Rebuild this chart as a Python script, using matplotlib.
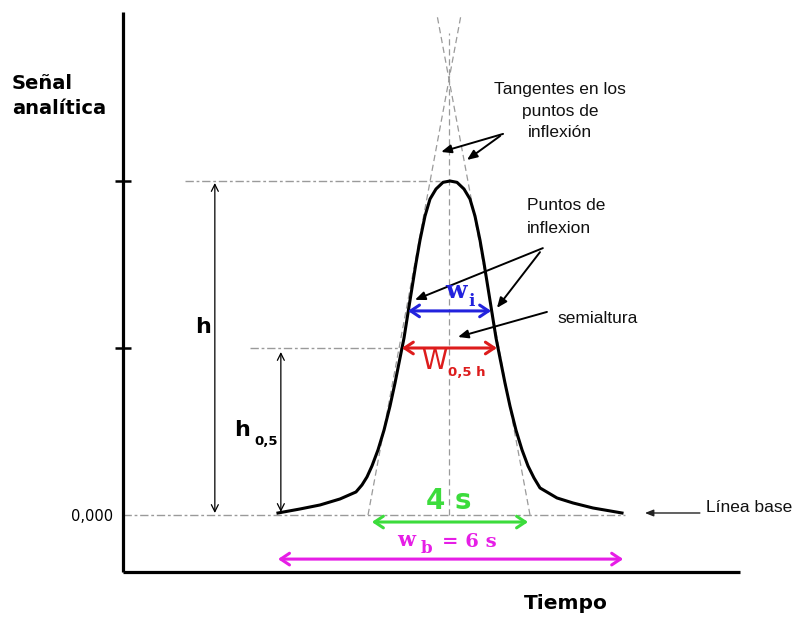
import matplotlib
matplotlib.use("Agg")
import matplotlib.pyplot as plt

# ---------------- data (time in sigma units, signal relative to peak height) -------------
curve_t = [3.780, 4.317, 4.805, 5.293, 5.683, 5.829, 5.951, 6.073, 6.220, 6.366, 6.512,
           6.634, 6.756, 6.854, 6.951, 7.049, 7.146, 7.244, 7.366, 7.488, 7.634, 7.805,
           7.976, 8.146, 8.317, 8.463, 8.585, 8.707, 8.805, 8.902, 9.000, 9.098, 9.195,
           9.317, 9.439, 9.585, 9.732, 9.878, 10.024, 10.171, 10.585, 10.976, 11.463, 12.171]
curve_s = [0.006, 0.018, 0.030, 0.048, 0.069, 0.090, 0.114, 0.147, 0.195, 0.254, 0.326,
           0.395, 0.470, 0.530, 0.605, 0.680, 0.754, 0.823, 0.895, 0.946, 0.976, 0.996,
           1.000, 0.996, 0.976, 0.946, 0.895, 0.823, 0.754, 0.680, 0.605, 0.530, 0.470,
           0.395, 0.326, 0.254, 0.195, 0.147, 0.111, 0.081, 0.051, 0.036, 0.021, 0.006]

peak_t = 7.95
peak_height = 1.0
half_height = 0.5
baseline = 0.0

tangent_left_t = [5.976, 8.244]
tangent_right_t = [9.927, 7.659]
tangent_s = [0.0, 1.497]
center_line_s = [0.0, 1.443]

wi_t = [6.95, 8.98]
wi_s = 0.611
w05_t = [6.80, 9.12]
w4s_t = [6.07, 9.88]
w4s_s = -0.021
wb_t = [3.78, 12.20]
wb_s = -0.132

h_t = 2.24
h05_t = 3.85

ytick_vals = [0.0, 0.5, 1.0]
ytick_labels = ["0,000", "", ""]

# ---------------- figure ----------------
W, H = 793, 617
fig = plt.figure(figsize=(W / 100, H / 100), dpi=100)
ax = fig.add_axes([123 / W, (H - 572) / H, (740 - 123) / W, (572 - 12) / H])
ax.set_xlim(0, 617 / 41)
ax.set_ylim(-57 / 334, 503 / 334)

for sp in ["top", "right"]:
    ax.spines[sp].set_visible(False)
for sp in ["left", "bottom"]:
    ax.spines[sp].set_linewidth(2.3)
    ax.spines[sp].set_color("black")
    ax.spines[sp].set_capstyle("butt")
ax.set_xticks([])
ax.set_yticks(ytick_vals)
ax.set_yticklabels(ytick_labels, fontsize=10.5, family="DejaVu Sans")
ax.tick_params(axis="y", direction="inout", length=11, width=1.8, pad=1.5)
ax.yaxis.get_major_ticks()[0].tick1line.set_visible(False)

gray = "#9a9a9a"
# reference lines
ax.plot([0.0, 12.24], [baseline, baseline], color=gray, lw=1.0, dashes=(6, 2, 2, 2))
ax.plot([1.51, 7.73], [peak_height, peak_height], color=gray, lw=1.0, dashes=(6, 2, 2, 2))
ax.plot([3.10, 6.78], [half_height, half_height], color=gray, lw=1.0, dashes=(6, 2, 2, 2))
ax.plot(tangent_left_t, tangent_s, color=gray, lw=0.9, dashes=(5, 3))
ax.plot(tangent_right_t, tangent_s, color=gray, lw=0.9, dashes=(5, 3))
ax.plot([peak_t, peak_t], center_line_s, color=gray, lw=0.9, dashes=(5, 3))

# peak
ax.plot(curve_t, curve_s, color="black", lw=2.2, solid_joinstyle="round", zorder=5)

# height arrows
thin = dict(arrowstyle="<->,head_length=0.5,head_width=0.25", lw=0.9, color="black",
            shrinkA=0, shrinkB=0, mutation_scale=10)
ax.annotate("", xy=(h_t, baseline + 0.006), xytext=(h_t, peak_height - 0.006), arrowprops=thin)
ax.annotate("", xy=(h05_t, baseline + 0.009), xytext=(h05_t, half_height - 0.012), arrowprops=thin)

def dbl(t0, t1, s, color):
    ax.annotate("", xy=(t0, s), xytext=(t1, s),
                arrowprops=dict(arrowstyle="<->,head_length=0.45,head_width=0.3", lw=2.2,
                                color=color, shrinkA=0, shrinkB=0, mutation_scale=14), zorder=6)

blue, red, green, magenta = "#2222dd", "#dd1c1c", "#3cdc3c", "#e61ee6"
dbl(wi_t[0], wi_t[1], wi_s, blue)
dbl(w05_t[0], w05_t[1], half_height, red)
dbl(w4s_t[0], w4s_t[1], w4s_s, green)
dbl(wb_t[0], wb_t[1], wb_s, magenta)

# labels on the peak
bold = dict(family="DejaVu Sans", fontweight="bold")
ax.text(1.95, 0.563, "h", fontsize=16, ha="center", va="center", **bold)
ax.text(2.90, 0.254, "h", fontsize=16, ha="center", va="center", **bold)
ax.text(3.20, 0.219, "0,5", fontsize=9.5, ha="left", va="center", **bold)

ax.text(8.12, 0.672, "w", fontsize=18, ha="center", va="center", color=blue,
        family="DejaVu Serif", fontweight="bold", zorder=7)
ax.text(8.51, 0.640, "i", fontsize=12, ha="center", va="center", color=blue,
        family="DejaVu Serif", fontweight="bold", zorder=7)

ax.text(7.59, 0.458, "W", fontsize=19, ha="center", va="center", color=red,
        family="DejaVu Sans", zorder=7)
ax.text(7.93, 0.428, "0,5 h", fontsize=9.5, ha="left", va="center", color=red,
        zorder=7, **bold)

ax.text(peak_t, 0.042, "4 s", fontsize=20, ha="center", va="center", color=green, zorder=7, **bold)

ax.text(6.90, -0.075, "w", fontsize=15, ha="center", va="center", color=magenta,
        family="DejaVu Serif", fontweight="bold")
ax.text(7.39, -0.099, "b", fontsize=12, ha="center", va="center", color=magenta,
        family="DejaVu Serif", fontweight="bold")
ax.text(7.78, -0.081, "= 6 s", fontsize=14, ha="left", va="center", color=magenta,
        family="DejaVu Serif", fontweight="bold")

# annotations
note = dict(family="Liberation Sans", fontsize=12.5, color="#111111")
ax.text(10.66, 1.296, "Tangentes en los\npuntos de\ninflexión", ha="center", va="top",
        multialignment="center", linespacing=1.55, **note)
ax.text(9.85, 0.948, "Puntos de\ninflexion", ha="left", va="top", linespacing=1.6, **note)
ax.text(10.59, 0.587, "semialtura", ha="left", va="center", **note)
ax.text(14.22, 0.021, "Línea base", ha="left", va="center", clip_on=False, **note)

ann = dict(arrowstyle="-|>,head_length=0.6,head_width=0.25", lw=1.4, color="black",
           shrinkA=0, shrinkB=0, mutation_scale=10)
ax.annotate("", xy=(7.76, 1.087), xytext=(9.27, 1.141), arrowprops=ann)
ax.annotate("", xy=(8.39, 1.063), xytext=(9.20, 1.135), arrowprops=ann)
ax.annotate("", xy=(7.12, 0.644), xytext=(10.24, 0.799), arrowprops=ann)
ax.annotate("", xy=(9.12, 0.620), xytext=(10.17, 0.787), arrowprops=ann)
ax.annotate("", xy=(8.17, 0.533), xytext=(10.34, 0.608), arrowprops=ann)
ax.annotate("", xy=(12.73, 0.006), xytext=(14.07, 0.006),
            arrowprops=dict(arrowstyle="-|>,head_length=0.5,head_width=0.2", lw=1.0,
                            color="#222222", shrinkA=0, shrinkB=0, mutation_scale=10))

# axis titles
fig.text(12 / W, 1 - 74 / H, "Señal\nanalítica", fontsize=14, ha="left", va="top",
         linespacing=1.4, **bold)
fig.text(566 / W, 1 - 609 / H, "Tiempo", fontsize=14.5, ha="center", va="baseline", **bold)

fig.savefig("out.png", dpi=100)
